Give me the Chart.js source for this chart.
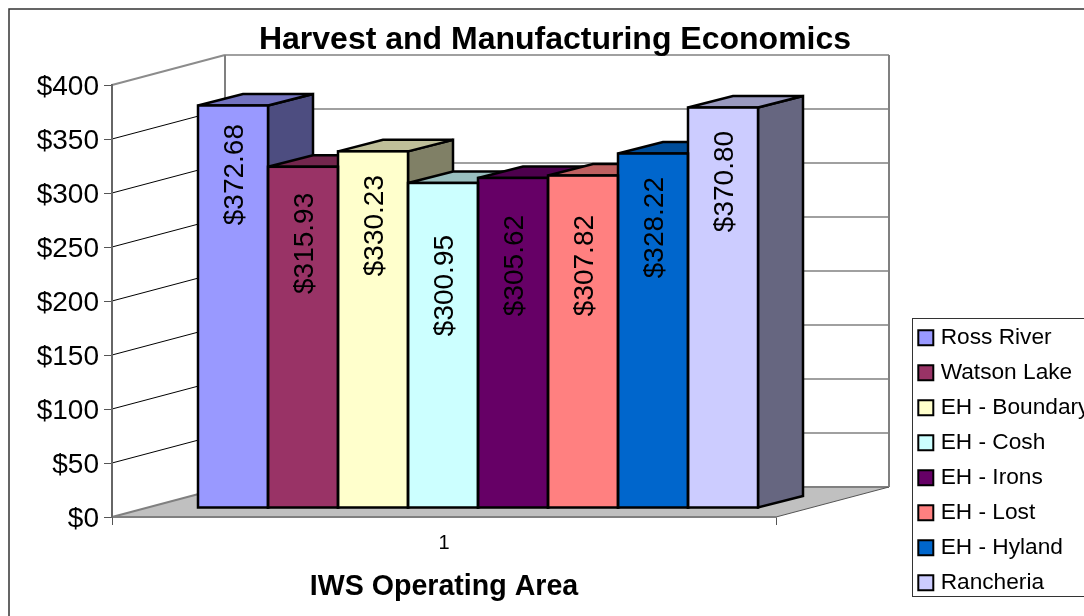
<!DOCTYPE html>
<html>
<head>
<meta charset="utf-8">
<style>
  html, body { margin: 0; padding: 0; background: #fff; overflow: hidden; }
  canvas { display: block; }
</style>
<script src="https://cdn.jsdelivr.net/npm/chart.js@4"></script>
</head>
<body>
<canvas id="chart" width="1084" height="616"></canvas>
<script>
const categories = ['1'];
const seriesNames = ['Ross River', 'Watson Lake', 'EH - Boundary', 'EH - Cosh', 'EH - Irons', 'EH - Lost', 'EH - Hyland', 'Rancheria'];
const seriesValues = [372.68, 315.93, 330.23, 300.95, 305.62, 307.82, 328.22, 370.80];
const seriesColors = ['#9999FF', '#993366', '#FFFFCC', '#CCFFFF', '#660066', '#FF8080', '#0066CC', '#CCCCFF'];

const FONT = '"Liberation Sans", Arial, sans-serif';

// fake 3D: offsets from the front plane of the axes
const WALL = { dx: 113, dy: -30 };
const BAR_PLANE = { dx: 34, dy: -9 };
const BAR_DEPTH = { dx: 45, dy: -11.5 };
const EDGE = 2.5;

// the value labels were hand placed in the original, px down from each bar top
const labelDrop = [18.5, 26, 23.7, 52, 37, 39.4, 23.5, 23.4];

function shade(hex, f) {
  const n = parseInt(hex.slice(1), 16);
  return `rgb(${Math.round((n >> 16) * f)},${Math.round(((n >> 8) & 255) * f)},${Math.round((n & 255) * f)})`;
}

function poly(ctx, pts, fill, stroke, width) {
  ctx.beginPath();
  pts.forEach((p, i) => (i ? ctx.lineTo(p[0], p[1]) : ctx.moveTo(p[0], p[1])));
  ctx.closePath();
  if (fill) { ctx.fillStyle = fill; ctx.fill(); }
  if (stroke) { ctx.strokeStyle = stroke; ctx.lineWidth = width; ctx.stroke(); }
}

function seg(ctx, x1, y1, x2, y2, color, width) {
  ctx.beginPath();
  ctx.moveTo(x1, y1);
  ctx.lineTo(x2, y2);
  ctx.strokeStyle = color;
  ctx.lineWidth = width;
  ctx.stroke();
}

const frame3d = {
  id: 'frame3d',
  afterLayout(chart) {
    // the legend and title do not sit where the layout boxes put them
    const lg = chart.legend;
    lg.left = 910; lg.right = 1084; lg.top = 314; lg.bottom = 616;
    chart.titleBlock.left += 82;
    chart.titleBlock.right += 82;
  },
  beforeDraw(chart) {
    const { ctx } = chart;
    const { x, y } = chart.scales;
    const l = x.left, r = x.right, t = y.top, b = y.bottom;
    const dx = WALL.dx, dy = WALL.dy;
    ctx.save();
    ctx.fillStyle = '#fff';
    ctx.fillRect(0, 0, chart.width, chart.height);
    // outer border, right and bottom run off the page
    ctx.strokeStyle = '#333';
    ctx.lineWidth = 1.5;
    ctx.strokeRect(9, 9, chart.width + 20, chart.height + 20);
    // floor
    poly(ctx, [[l, b], [r, b], [r + dx, b + dy], [l + dx, b + dy]], '#C0C0C0');
    seg(ctx, l, b, l + dx, b + dy, '#808080', 2);
    seg(ctx, l + dx, b + dy, r + dx, b + dy, '#808080', 2);
    seg(ctx, r, b, r + dx, b + dy, '#555', 1);
    // gridlines on the side wall and back wall
    y.ticks.forEach(tk => {
      const py = y.getPixelForValue(tk.value);
      if (tk.value > 0 && tk.value < y.max) seg(ctx, l, py, l + dx, py + dy, '#000', 1);
      if (tk.value > 0) seg(ctx, l + dx, py + dy, r + dx, py + dy, '#808080', 1.5);
    });
    seg(ctx, l, t, l + dx, t + dy, '#8c8c8c', 2);
    seg(ctx, l + dx, t + dy, l + dx, b + dy, '#808080', 2);
    seg(ctx, r + dx, t + dy, r + dx, b + dy, '#808080', 2);
    // legend box
    ctx.strokeStyle = '#333';
    ctx.lineWidth = 1;
    ctx.strokeRect(912.5, 318.5, 300, 278);
    ctx.restore();
  },
  beforeDatasetsDraw(chart) {
    const { ctx } = chart;
    ctx.save();
    ctx.translate(BAR_PLANE.dx, BAR_PLANE.dy);
    ctx.lineJoin = 'miter';
    ctx.miterLimit = 3;
    // depth faces left to right, the library paints the fronts over them
    chart.data.datasets.forEach((ds, i) => {
      const el = chart.getDatasetMeta(i).data[0];
      const x0 = el.x - el.width / 2, x1 = el.x + el.width / 2;
      const top = el.y, base = el.base;
      const ddx = BAR_DEPTH.dx, ddy = BAR_DEPTH.dy;
      poly(ctx, [[x1, top], [x1 + ddx, top + ddy], [x1 + ddx, base + ddy], [x1, base]], shade(ds.backgroundColor, 0.5), '#000', EDGE);
      poly(ctx, [[x0, top], [x0 + ddx, top + ddy], [x1 + ddx, top + ddy], [x1, top]], shade(ds.backgroundColor, 0.75), '#000', EDGE);
    });
  },
  afterDatasetsDraw(chart) {
    const { ctx } = chart;
    // outlines go on top so they straddle the bar edges like the original
    chart.data.datasets.forEach((ds, i) => {
      const el = chart.getDatasetMeta(i).data[0];
      ctx.strokeStyle = '#000';
      ctx.lineWidth = EDGE;
      ctx.strokeRect(el.x - el.width / 2, el.y, el.width, el.base - el.y);
    });
    ctx.font = '28px ' + FONT;
    ctx.fillStyle = '#000';
    ctx.textAlign = 'right';
    ctx.textBaseline = 'middle';
    chart.data.datasets.forEach((ds, i) => {
      const el = chart.getDatasetMeta(i).data[0];
      ctx.save();
      ctx.translate(el.x + 2.5, el.y + labelDrop[i]);
      ctx.rotate(-Math.PI / 2);
      ctx.fillText('$' + ds.data[0].toFixed(2), 0, 0);
      ctx.restore();
    });
    ctx.restore(); // from beforeDatasetsDraw
  }
};

new Chart(document.getElementById('chart'), {
  type: 'bar',
  plugins: [frame3d],
  data: {
    labels: categories,
    datasets: seriesNames.map((name, i) => ({
      label: name,
      data: [seriesValues[i]],
      backgroundColor: seriesColors[i],
      borderColor: '#000',
      borderWidth: 2,       // only the legend swatch reads this
      borderSkipped: true,
      clip: false
    }))
  },
  options: {
    responsive: false,
    animation: false,
    events: [],
    layout: { padding: { left: 0, top: 0, right: 138, bottom: 0 } },
    datasets: { bar: { barPercentage: 1, categoryPercentage: 560 / 664 } },
    scales: {
      x: {
        afterFit(scale) { scale.height = 99; },
        grid: { drawOnChartArea: false, tickLength: 8, tickColor: '#555', lineWidth: 1 },
        border: { color: '#808080', width: 2 },
        ticks: { color: '#000', padding: 6, font: { family: FONT, size: 20 } },
        title: {
          display: true,
          text: 'IWS Operating Area',
          color: '#000',
          font: { family: FONT, size: 28.6, weight: 'bold' },
          padding: { top: 4, bottom: 12 }
        }
      },
      y: {
        min: 0,
        max: 400,
        afterFit(scale) { scale.width = 112; },
        grid: { drawOnChartArea: false, tickLength: 8, tickColor: '#555', lineWidth: 1 },
        border: { color: '#666', width: 2 },
        ticks: {
          stepSize: 50,
          color: '#000',
          padding: 5,
          labelOffset: 2,
          font: { family: FONT, size: 28 },
          callback: v => '$' + v
        }
      }
    },
    plugins: {
      tooltip: { enabled: false },
      title: {
        display: true,
        text: 'Harvest and Manufacturing Economics',
        color: '#000',
        font: { family: FONT, size: 32, weight: 'bold', lineHeight: 1 },
        padding: { top: 24, bottom: 29 }
      },
      legend: {
        position: 'right',
        align: 'start',
        maxWidth: 170,
        labels: {
          usePointStyle: true,
          pointStyle: 'rect',
          boxWidth: 7,
          boxHeight: 15,
          padding: 12.3,
          color: '#000',
          font: { family: FONT, size: 22.7 }
        }
      }
    }
  }
});
</script>
</body>
</html>
